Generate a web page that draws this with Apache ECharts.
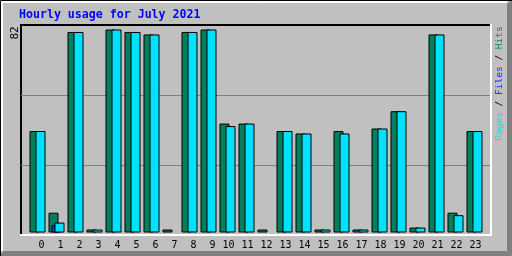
<!DOCTYPE html>
<html><head><meta charset="utf-8">
<script src="https://cdn.jsdelivr.net/npm/echarts@6/dist/echarts.min.js"></script>
<style>html,body{margin:0;padding:0;background:#c0c0c0}#c{width:512px;height:256px}</style>
</head><body><div id="c"></div>
<script>
const titleText = 'Hourly usage for July 2021';
const hours = ['0','1','2','3','4','5','6','7','8','9','10','11','12','13','14','15','16','17','18','19','20','21','22','23'];
const hits  = [41, 8, 81, 1, 82, 81, 80, 1, 81, 82, 44, 44, 1, 41, 40, 1, 41, 1, 42, 49, 2, 80, 8, 41];
const files = [ 0, 3,  0, 0,  0,  0,  0, 0,  0,  0,  0,  0, 0,  0,  0, 0,  0, 0,  0,  0, 0,  0, 0,  0];
const pages = [41, 4, 81, 1, 82, 81, 80, 0, 81, 82, 43, 44, 0, 41, 40, 1, 40, 1, 42, 49, 2, 80, 7, 41];
const yMax = 82;
const legendParts = ['Pages', 'Files', 'Hits'];

const C_HITS = '#00805c', C_FILES = '#0040ff', C_PAGES = '#00e0ff';
const MONO = 'DejaVu Sans Mono';

const chart = echarts.init(document.getElementById('c'), null, {renderer: 'canvas'});
const nz = a => a.map(v => v > 0 ? v : null);
const barBase = {type: 'bar', xAxisIndex: 1, yAxisIndex: 1, barWidth: 10, barGap: '-70%', barMinHeight: 3, silent: true};

chart.setOption({
  animation: false,
  backgroundColor: '#c0c0c0',
  title: {
    text: titleText, left: 19, top: 9, padding: 0,
    textStyle: {color: '#0000ff', fontFamily: MONO, fontWeight: 'bold', fontSize: 11.6}
  },
  grid: [
    {left: 21, right: 22, top: 25, bottom: 21},
    {left: 28, right: 28, top: 29.5, bottom: 23.5}
  ],
  xAxis: [
    {gridIndex: 0, type: 'value', min: 0, max: 1, show: false},
    {gridIndex: 1, type: 'category', data: hours,
     axisLine: {show: false}, axisTick: {show: false}, splitLine: {show: false},
     axisLabel: {
       interval: 0, margin: 8, color: '#000', fontFamily: MONO, fontSize: 10,
       formatter: v => (v.length === 1 ? '{a|' : '{b|') + v + '}',
       rich: {
         a: {padding: [0, 0, 0, 8], color: '#000', fontFamily: MONO, fontSize: 10},
         b: {padding: [0, 0, 0, 2], color: '#000', fontFamily: MONO, fontSize: 10}
       }
     }}
  ],
  yAxis: [
    {gridIndex: 0, type: 'value', min: 0, max: 3, interval: 1,
     axisLine: {show: false}, axisTick: {show: false}, axisLabel: {show: false},
     splitLine: {show: true, showMinLine: false, showMaxLine: false, lineStyle: {color: '#808080', width: 1}}},
    {gridIndex: 1, type: 'value', min: 0, max: yMax, show: false}
  ],
  series: [
    Object.assign({}, barBase, {name: 'Hits', data: nz(hits),
      itemStyle: {color: C_HITS, borderColor: '#000', borderWidth: 1}}),
    Object.assign({}, barBase, {name: 'Files', data: nz(files),
      itemStyle: {color: C_FILES, borderColor: '#000', borderWidth: 1}}),
    Object.assign({}, barBase, {name: 'Pages', data: nz(pages),
      itemStyle: {color: C_PAGES, borderColor: '#000', borderWidth: 1}})
  ],
  graphic: [
    // outer bevel
    {type: 'polygon', shape: {points: [[507, 4], [512, 0], [512, 256], [507, 251]]}, style: {fill: '#808080'}, silent: true},
    {type: 'polygon', shape: {points: [[3, 251], [507, 251], [512, 256], [0, 256]]}, style: {fill: '#808080'}, silent: true},
    {type: 'polyline', shape: {points: [[2, 251], [2, 2], [507, 2]]}, style: {stroke: '#ffffff', lineWidth: 2, fill: null}, silent: true},
    {type: 'polyline', shape: {points: [[0.5, 256], [0.5, 0.5], [512, 0.5]]}, style: {stroke: '#000000', lineWidth: 1, fill: null}, silent: true},
    // plot frame
    {type: 'polyline', shape: {points: [[21, 236], [21, 25], [492, 25]]}, style: {stroke: '#000', lineWidth: 2, fill: null}, silent: true},
    {type: 'polyline', shape: {points: [[20, 235], [491, 235], [491, 24]]}, style: {stroke: '#fff', lineWidth: 2, fill: null}, silent: true},
    // max label
    {type: 'text', x: 15, y: 33, rotation: Math.PI / 2, silent: true,
     style: {text: String(yMax), font: '11px ' + MONO, fill: '#000', align: 'center', verticalAlign: 'middle'}},
    // legend
    {type: 'text', x: 500, y: 83.5, rotation: Math.PI / 2, silent: true,
     style: {
       text: '{p|' + legendParts[0] + '}{s| / }{f|' + legendParts[1] + '}{s| / }{h|' + legendParts[2] + '}',
       font: '9.5px ' + MONO, align: 'center', verticalAlign: 'middle', fill: '#000',
       rich: {
         p: {fill: C_PAGES, font: '9.5px ' + MONO},
         s: {fill: '#000', font: '9.5px ' + MONO},
         f: {fill: C_FILES, font: '9.5px ' + MONO},
         h: {fill: C_HITS, font: '9.5px ' + MONO}
       }
     }}
  ]
});
</script></body></html>
